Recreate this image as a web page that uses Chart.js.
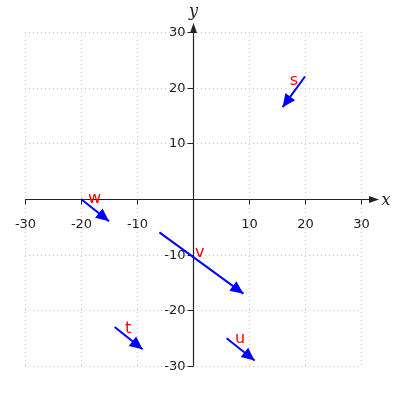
<!DOCTYPE html>
<html>
<head>
<meta charset="utf-8">
<script src="https://cdn.jsdelivr.net/npm/chart.js@4"></script>
<style>
html,body{margin:0;padding:0;background:#fff;}
#wrap{width:400px;height:400px;}
</style>
</head>
<body>
<div id="wrap"><canvas id="c" width="400" height="400"></canvas></div>
<script>
// Vector names, start points and components
const names = ["s", "t", "u", "v", "w"];
const startX = [20, -14, 6, -6, -20];
const startY = [22, -23, -25, -6, 0];
const compX = [-4, 5, 5, 15, 5];
const compY = [-5.5, -4, -4, -11, -4];
// label anchor positions (data coords)
const labelX = [18, -11.6, 8.4, 1.2, -17.6];
const labelY = [21.2, -23.3, -25.2, -9.7, 0];
// tick labels
const xTicks = [-30, -20, -10, 10, 20, 30];
const yTicks = [-30, -20, -10, 10, 20, 30];
const gridVals = [-30, -20, -10, 0, 10, 20, 30];

const datasets = names.map((n, i) => ({
  label: n,
  data: [{x: startX[i], y: startY[i]}, {x: startX[i] + compX[i], y: startY[i] + compY[i]}],
  showLine: true,
  borderColor: '#0000ff',
  borderWidth: 2,
  pointRadius: 0,
  fill: false
}));

function tri(ctx, tipX, tipY, dx, dy, len, halfW, color) {
  const L = Math.hypot(dx, dy);
  const ux = dx / L, uy = dy / L;
  const bx = tipX - ux * len, by = tipY - uy * len;
  ctx.beginPath();
  ctx.moveTo(tipX, tipY);
  ctx.lineTo(bx - uy * halfW, by + ux * halfW);
  ctx.lineTo(bx + uy * halfW, by - ux * halfW);
  ctx.closePath();
  ctx.fillStyle = color;
  ctx.fill();
}

const backPlugin = {
  id: 'back',
  beforeDatasetsDraw(chart) {
    const ctx = chart.ctx, xs = chart.scales.x, ys = chart.scales.y;
    const x0 = xs.getPixelForValue(0), y0 = ys.getPixelForValue(0);
    const l = xs.getPixelForValue(-30), r = xs.getPixelForValue(30);
    const t = ys.getPixelForValue(30), b = ys.getPixelForValue(-30);
    ctx.save();
    // grid
    ctx.strokeStyle = '#c8c8c8';
    ctx.lineWidth = 1;
    ctx.setLineDash([1, 3]);
    gridVals.forEach(v => {
      const px = Math.round(xs.getPixelForValue(v)) + 0.5;
      ctx.beginPath(); ctx.moveTo(px, t); ctx.lineTo(px, b); ctx.stroke();
      const py = Math.round(ys.getPixelForValue(v)) + 0.5;
      ctx.beginPath(); ctx.moveTo(l, py); ctx.lineTo(r, py); ctx.stroke();
    });
    ctx.setLineDash([]);
    // axes
    ctx.strokeStyle = '#222';
    ctx.lineWidth = 1.2;
    const ay = Math.round(y0) + 0.5, ax = Math.round(x0) + 0.5;
    ctx.beginPath(); ctx.moveTo(l, ay); ctx.lineTo(r + 10, ay); ctx.stroke();
    ctx.beginPath(); ctx.moveTo(ax, b); ctx.lineTo(ax, t - 4); ctx.stroke();
    tri(ctx, r + 18, ay, 1, 0, 10, 3.5, '#222');
    tri(ctx, ax, t - 9, 0, -1, 10, 3.5, '#222');
    // ticks
    ctx.lineWidth = 1;
    ctx.fillStyle = '#222';
    ctx.font = '13px "DejaVu Sans"';
    ctx.textAlign = 'center';
    ctx.textBaseline = 'top';
    xTicks.forEach(v => {
      const px = Math.round(xs.getPixelForValue(v)) + 0.5;
      ctx.beginPath(); ctx.moveTo(px, ay); ctx.lineTo(px, ay + 5); ctx.stroke();
      ctx.fillText(String(v), px, ay + 19);
    });
    ctx.textAlign = 'right';
    ctx.textBaseline = 'middle';
    yTicks.forEach(v => {
      const py = Math.round(ys.getPixelForValue(v)) + 0.5;
      ctx.beginPath(); ctx.moveTo(ax - 6, py); ctx.lineTo(ax, py); ctx.stroke();
      ctx.fillText(String(v), ax - 8, py);
    });
    // axis labels
    ctx.font = 'italic 16px "DejaVu Serif"';
    ctx.textAlign = 'center';
    ctx.textBaseline = 'middle';
    ctx.fillText('x', r + 25, ay + 1);
    ctx.fillText('y', ax, t - 20);
    ctx.restore();
  },
  afterDatasetsDraw(chart) {
    const ctx = chart.ctx, xs = chart.scales.x, ys = chart.scales.y;
    ctx.save();
    names.forEach((n, i) => {
      const ex = xs.getPixelForValue(startX[i] + compX[i]);
      const ey = ys.getPixelForValue(startY[i] + compY[i]);
      const sx = xs.getPixelForValue(startX[i]);
      const sy = ys.getPixelForValue(startY[i]);
      tri(ctx, ex, ey, ex - sx, ey - sy, 13, 6, '#0000ff');
      ctx.fillStyle = '#ff0000';
      ctx.font = '16px "DejaVu Sans"';
      ctx.textAlign = 'center';
      ctx.textBaseline = 'middle';
      ctx.fillText(n, xs.getPixelForValue(labelX[i]), ys.getPixelForValue(labelY[i]));
    });
    ctx.restore();
  }
};

new Chart(document.getElementById('c'), {
  type: 'scatter',
  data: { datasets },
  options: {
    responsive: false,
    animation: false,
    layout: { padding: { left: 25, right: 39, top: 32, bottom: 34 } },
    plugins: { legend: { display: false }, tooltip: { enabled: false } },
    scales: {
      x: { type: 'linear', min: -30, max: 30, display: false },
      y: { type: 'linear', min: -30, max: 30, display: false }
    }
  },
  plugins: [backPlugin]
});
</script>
</body>
</html>
